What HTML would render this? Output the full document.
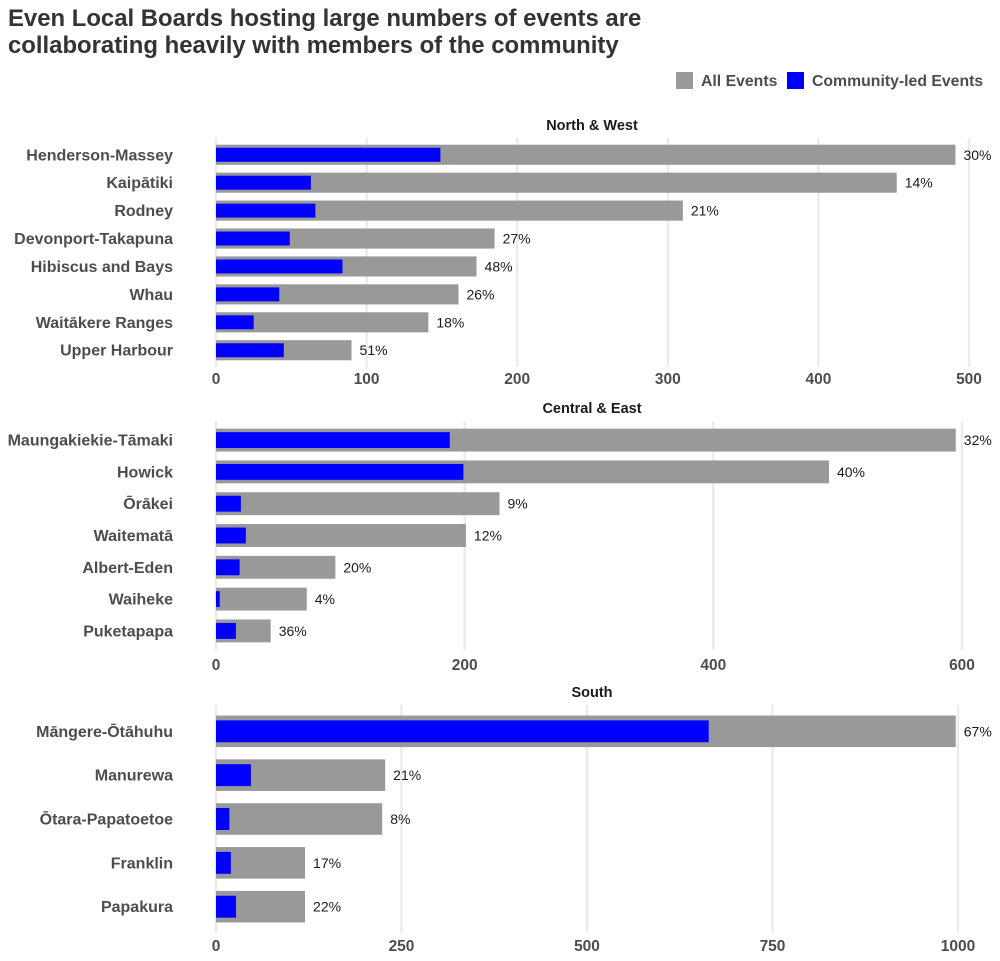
<!DOCTYPE html>
<html><head><meta charset="utf-8">
<style>
body{margin:0;background:#fff;font-family:"Liberation Sans",Arial,sans-serif;}
svg{display:block}
</style></head>
<body>
<svg id="chart" width="1000" height="961" xmlns="http://www.w3.org/2000/svg">
<text x="8" y="26" font-size="23.9" font-weight="bold" fill="#333" font-family="Liberation Sans, sans-serif">Even Local Boards hosting large numbers of events are</text>
<text x="8" y="53" font-size="23.9" font-weight="bold" fill="#333" font-family="Liberation Sans, sans-serif">collaborating heavily with members of the community</text>
<g font-family="Liberation Sans, sans-serif" font-size="15.8" font-weight="bold" fill="#4d4d4d">
<rect x="676" y="72" width="17" height="17" fill="#999"/>
<text x="701" y="86">All Events</text>
<rect x="787" y="72" width="17" height="17" fill="#0000ff"/>
<text x="812" y="86">Community-led Events</text>
</g>
<g id="panels"></g>
</svg>
<script>
const boards1=["Henderson-Massey","Kaipātiki","Rodney","Devonport-Takapuna","Hibiscus and Bays","Whau","Waitākere Ranges","Upper Harbour"];
const all1=[491,452,310,185,173,161,141,90];
const comm1=[149,63,66,49,84,42,25,45];
const pct1=["30%","14%","21%","27%","48%","26%","18%","51%"];
const ticks1=[0,100,200,300,400,500];

const boards2=["Maungakiekie-Tāmaki","Howick","Ōrākei","Waitematā","Albert-Eden","Waiheke","Puketapapa"];
const all2=[595,493,228,201,96,73,44];
const comm2=[188,199,20,24,19,3,16];
const pct2=["32%","40%","9%","12%","20%","4%","36%"];
const ticks2=[0,200,400,600];

const boards3=["Māngere-Ōtāhuhu","Manurewa","Ōtara-Papatoetoe","Franklin","Papakura"];
const all3=[997,228,224,120,120];
const comm3=[664,47,18,20,27];
const pct3=["67%","21%","8%","17%","22%"];
const ticks3=[0,250,500,750,1000];

const NS="http://www.w3.org/2000/svg";
const root=document.getElementById('panels');
function mk(tag,attrs,parent){const e=document.createElementNS(NS,tag);for(const k in attrs)e.setAttribute(k,attrs[k]);parent.appendChild(e);return e;}

function panel(id,title,boards,all,comm,pct,ticks,tmin,tmax,pxMax,titleY,top,height,tickY){
  const g=mk('g',{},root);
  
  
  const x0=216;
  const x=v=>x0+(v-tmin)/(tmax-tmin)*(pxMax-x0);
  const n=boards.length;
  const step=height/(n-1+1.2);
  const cy=i=>top+step*(0.6+i);
  const t=mk('text',{x:592,y:titleY,'text-anchor':'middle','font-size':14.5,'font-weight':'bold',fill:'#1a1a1a'},g);
  
  
  t.textContent=title;
  ticks.forEach(tv=>{
    const l=mk('line',{x1:x(tv),x2:x(tv),y1:top,y2:top+height,stroke:'#ebebeb','stroke-width':2.5},g);
    
    
    const tl=mk('text',{x:x(tv),y:tickY,'text-anchor':'middle','font-size':15.5,'font-weight':'bold',fill:'#4d4d4d'},g);
    
    
    tl.textContent=tv;
  });
  boards.forEach((b,i)=>{
    const c=cy(i);
    const lab=mk('text',{x:173,y:c+5.5,'text-anchor':'end','font-size':16,'font-weight':'bold',fill:'#4d4d4d'},g);
    
    
    lab.textContent=b;
    const hA=step*0.72,hC=step*0.5;
    const ra=mk('rect',{x:x(0),y:c-hA/2,width:x(all[i])-x(0),height:hA,fill:'#999'},g);
    
    
    const rc=mk('rect',{x:x(0),y:c-hC/2,width:x(comm[i])-x(0),height:hC,fill:'#0000ff'},g);
    
    
    const pt=mk('text',{x:x(all[i])+8,y:c+5,'font-size':14,fill:'#1a1a1a'},g);
    
    
    pt.textContent=pct[i];
  });
}
panel('panel-north-west','North & West',boards1,all1,comm1,pct1,ticks1,0,500,969,130,138,229,384);
panel('panel-central-east','Central & East',boards2,all2,comm2,pct2,ticks2,0,600,962,413,421,229,670);
panel('panel-south','South',boards3,all3,comm3,pct3,ticks3,0,1000,958,697,705,228,951);
</script>
</body></html>
